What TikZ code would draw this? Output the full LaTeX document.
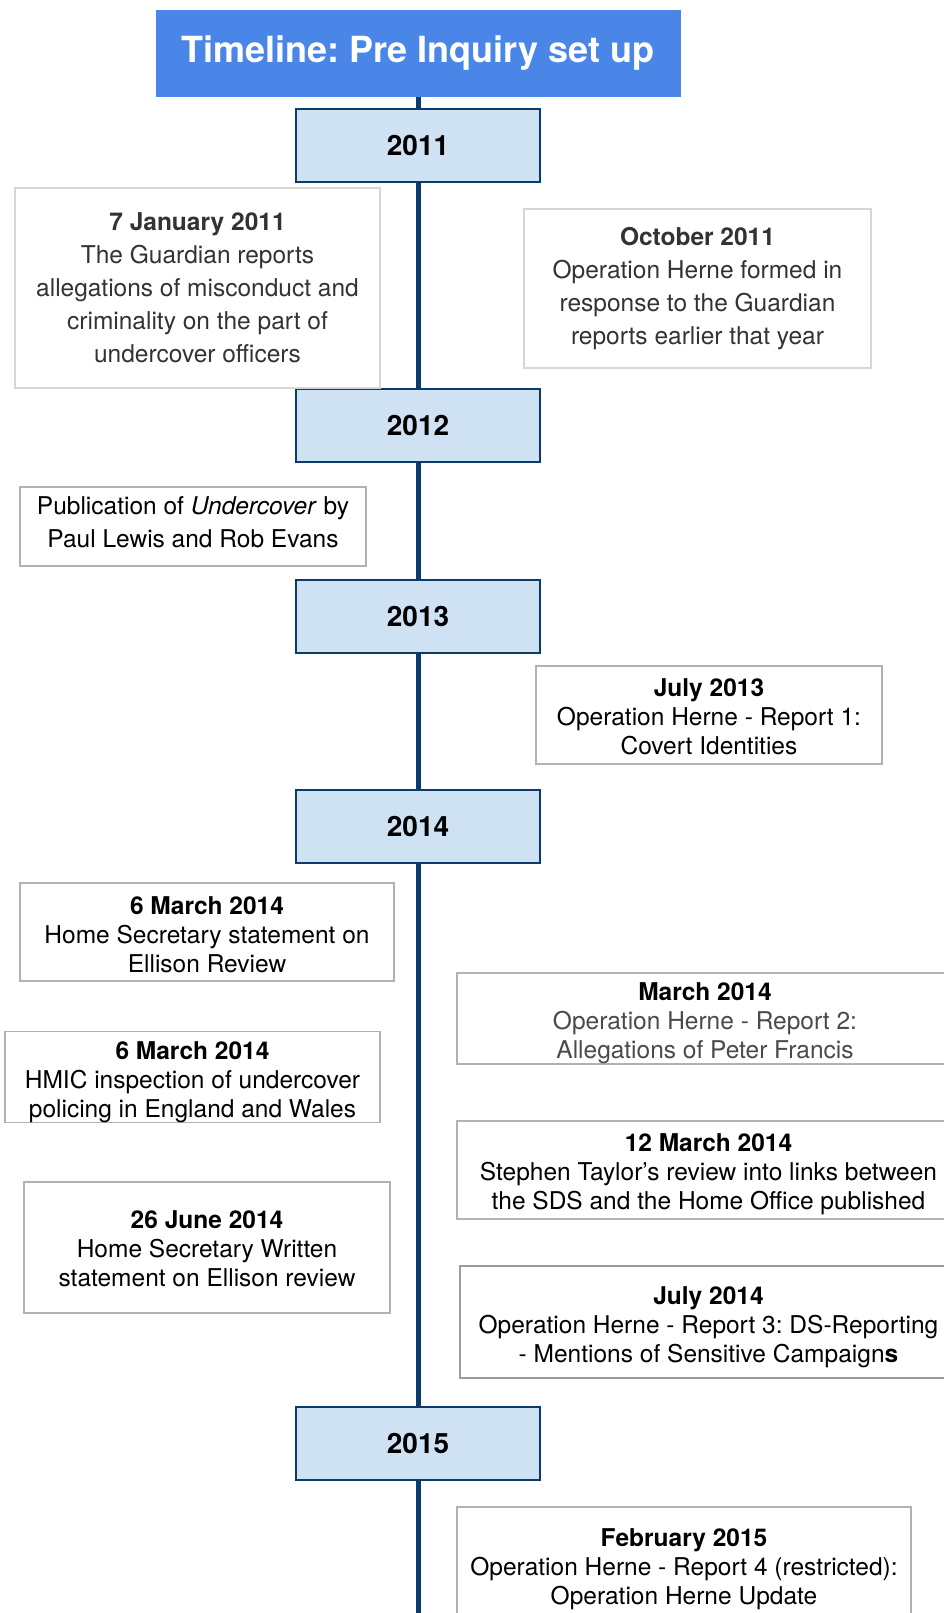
\documentclass[tikz,border=0pt]{standalone}
\usepackage{fontspec}
\setmainfont{TeX Gyre Heros}
\frenchspacing
\definecolor{titleblue}{HTML}{4A86E8}
\definecolor{yearfill}{HTML}{CFE2F3}
\definecolor{navy}{HTML}{0B3B6B}
\definecolor{boxline}{HTML}{B2B2B2}
\definecolor{lightline}{HTML}{D6D6D6}
\definecolor{darkline}{HTML}{9C9C9C}
\definecolor{darktext}{HTML}{333333}
\definecolor{graytext}{HTML}{4A4A4A}
\begin{document}
\begin{tikzpicture}[x=1pt,y=-1pt,
  titlebox/.style={fill=titleblue, text=white, minimum width=525pt, minimum height=87pt, inner sep=0pt, font=\fontsize{36}{42}\selectfont\bfseries},
  yearbox/.style={draw=navy, line width=1.3pt, fill=yearfill, minimum width=244pt, minimum height=73pt, inner sep=0pt, font=\fontsize{28}{33}\selectfont\bfseries},
  event/.style={draw=boxline, line width=1.2pt, fill=white, inner sep=0pt, align=center, font=\fontsize{24.5}{29}\selectfont},
  loose/.style={font=\fontsize{24.5}{33}\selectfont},
  faint/.style={draw=lightline, line width=1.6pt},
  spine/.style={draw=navy, line width=5pt}]
\useasboundingbox (0,0) rectangle (944,1613);
\fill[white] (0,0) rectangle (944,1613);

% title and years
\node[titlebox] (title) at (418,53.5) {Timeline: Pre Inquiry set up};
\node[yearbox] (y2011) at (418,145.5) {2011};
\node[yearbox] (y2012) at (418,425.5) {2012};
\node[yearbox] (y2013) at (418,616.5) {2013};
\node[yearbox] (y2014) at (418,826.5) {2014};
\node[yearbox] (y2015) at (418,1443.5) {2015};
\coordinate (end) at (418,1613);

\draw[spine] (title) -- (y2011);
\draw[spine] (y2011) -- (y2012);
\draw[spine] (y2012) -- (y2013);
\draw[spine] (y2013) -- (y2014);
\draw[spine] (y2014) -- (y2015);
\draw[spine] (y2015) -- (end);

% events
\node[event, loose, faint, text=darktext, minimum width=365pt, minimum height=200pt] (jan11) at (197.5,288)
  {\textbf{7 January 2011}\\The Guardian reports\\allegations of misconduct and\\criminality on the part of\\undercover officers};
\node[event, loose, faint, text=darktext, minimum width=347pt, minimum height=159pt] (oct11) at (697.5,288.5)
  {\textbf{October 2011}\\Operation Herne formed in\\response to the Guardian\\reports earlier that year};
\node[event, loose, minimum width=346pt, minimum height=79pt, text height=42.6pt] (pub12) at (193,526.5)
  {Publication of \textit{Undercover} by\\Paul Lewis and Rob Evans};
\node[event, minimum width=346pt, minimum height=98pt, text height=79.6pt] (jul13) at (709,715)
  {\textbf{July 2013}\\Operation Herne - Report 1:\\Covert Identities};
\node[event, minimum width=374pt, minimum height=98pt, text height=81.6pt] (mar6a) at (207,932)
  {\textbf{6 March 2014}\\Home Secretary statement on\\Ellison Review};
\node[event, minimum width=496pt, minimum height=87pt, text height=85.6pt] (mar14) at (705,1018.5)
  {\textbf{March 2014}\\\textcolor{graytext}{Operation Herne - Report 2:}\\\textcolor{graytext}{Allegations of Peter Francis}};
\node[event, minimum width=375pt, minimum height=88pt, text height=85.6pt] (mar6b) at (192.5,1077)
  {\textbf{6 March 2014}\\HMIC inspection of undercover\\policing in England and Wales};
\node[event, minimum width=503pt, minimum height=98pt, text height=83.6pt] (mar12) at (708.5,1170)
  {\textbf{12 March 2014}\\Stephen Taylor’s review into links between\\the SDS and the Home Office published};
\node[event, minimum width=366pt, minimum height=131pt, text height=77.6pt] (jun26) at (207,1247.5)
  {\textbf{26 June 2014}\\Home Secretary Written\\statement on Ellison review};
\node[event, draw=darkline, minimum width=497pt, minimum height=112pt, text height=85.6pt] (jul14) at (708.5,1322)
  {\textbf{July 2014}\\Operation Herne - Report 3: DS-Reporting\\- Mentions of Sensitive Campaign\textbf{s}};
\node[event, minimum width=454pt, minimum height=116pt, text height=83.6pt] (feb15) at (684,1565)
  {\textbf{February 2015}\\Operation Herne - Report 4 (restricted):\\Operation Herne Update};
\end{tikzpicture}
\end{document}
